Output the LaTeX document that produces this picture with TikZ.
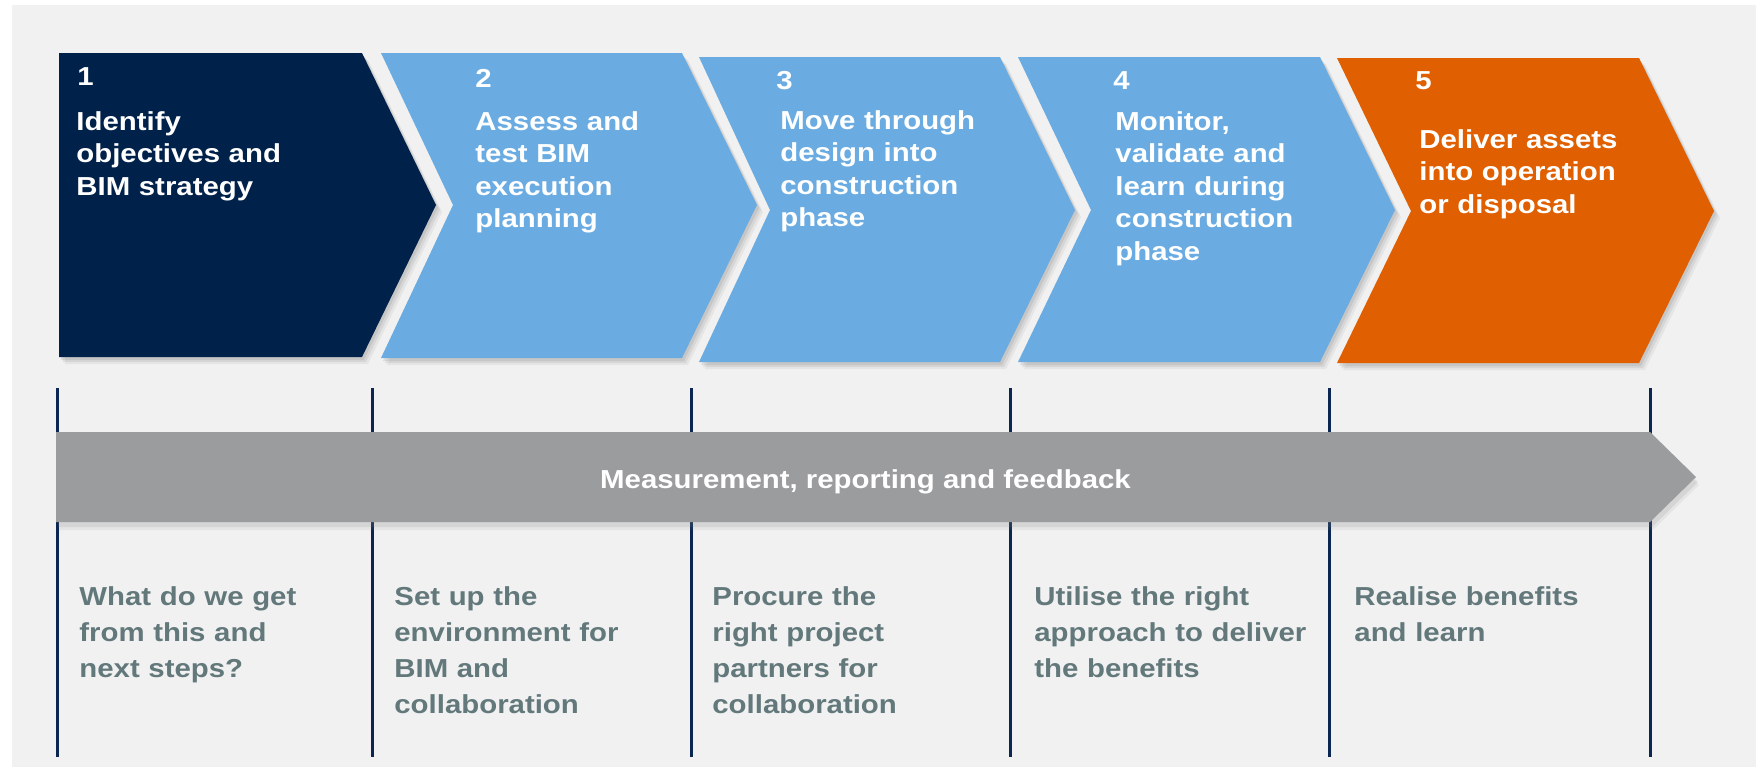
\documentclass[tikz,border=0pt]{standalone}
\usepackage{fontspec}
\setmainfont{Liberation Sans}[FakeStretch=1.13]
\usetikzlibrary{shadows}
\definecolor{navy}{HTML}{00214A}
\definecolor{lightblue}{HTML}{6AACE2}
\definecolor{orangec}{HTML}{E05F00}
\definecolor{barc}{HTML}{9B9C9E}
\definecolor{bgc}{HTML}{F1F1F1}
\definecolor{linec}{HTML}{0B2650}
\definecolor{textgray}{RGB}{98,120,122}
\tikzset{
  chev/.style={draw=none,
    drop shadow={shadow xshift=3pt, shadow yshift=-3.5pt, opacity=0.10},
    drop shadow={shadow xshift=2pt, shadow yshift=-2.5pt, opacity=0.14},
    drop shadow={shadow xshift=1pt, shadow yshift=-1.5pt, opacity=0.18}},
  numtxt/.style={anchor=base west, inner sep=0pt, text=white, font=\fontsize{13}{16.25}\selectfont\bfseries},
  steptxt/.style={anchor=base west, inner sep=0pt, text=white, text width=130pt, align=left, font=\fontsize{13}{16.25}\selectfont\bfseries},
  bottxt/.style={anchor=base west, inner sep=0pt, text=textgray, text width=150pt, align=left, font=\fontsize{13}{18}\selectfont\bfseries},
  divider/.style={draw=linec, line width=1.75pt}
}
\begin{document}
\begin{tikzpicture}[x=0.5pt, y=-0.5pt]
\useasboundingbox (0,0) rectangle (1756,767);
\fill[white] (0,0) rectangle (1756,767);
\fill[bgc] (12,5) rectangle (1756,767);

% chevrons
\fill[navy, chev] (59,53) -- (362,53) -- (436,205) -- (362,357) -- (59,357) -- cycle;
\fill[lightblue, chev] (381,53) -- (682,53) -- (757,205) -- (682,358) -- (381,358) -- (453,205) -- cycle;
\fill[lightblue, chev] (699,57) -- (1000,57) -- (1075,210) -- (1000,362) -- (699,362) -- (770,210) -- cycle;
\fill[lightblue, chev] (1018,57) -- (1320,57) -- (1395,210) -- (1320,362) -- (1018,362) -- (1091,210) -- cycle;
\fill[orangec, chev] (1337,58) -- (1639,58) -- (1714,211) -- (1639,363) -- (1337,363) -- (1411,211) -- cycle;

% step texts
\node[numtxt] (n1) at (77,85) {1};
\node[steptxt] (t1) at (76,130) {Identify\\objectives and\\BIM strategy};
\node[numtxt] (n2) at (475,87) {2};
\node[steptxt] (t2) at (475,130) {Assess and\\test BIM\\execution\\planning};
\node[numtxt] (n3) at (776,89) {3};
\node[steptxt] (t3) at (780,129) {Move through\\design into\\construction\\phase};
\node[numtxt] (n4) at (1113,89) {4};
\node[steptxt] (t4) at (1115,130) {Monitor,\\validate and\\learn during\\construction\\phase};
\node[numtxt] (n5) at (1415,89) {5};
\node[steptxt] (t5) at (1419,148) {Deliver assets\\into operation\\or disposal};

% dividers
\coordinate (d1a) at (57.5,388); \coordinate (d1b) at (57.5,757);
\coordinate (d2a) at (372.6,388); \coordinate (d2b) at (372.6,757);
\coordinate (d3a) at (691.7,388); \coordinate (d3b) at (691.7,757);
\coordinate (d4a) at (1010.7,388); \coordinate (d4b) at (1010.7,757);
\coordinate (d5a) at (1329.7,388); \coordinate (d5b) at (1329.7,757);
\coordinate (d6a) at (1650.4,388); \coordinate (d6b) at (1650.4,757);
\foreach \i in {1,...,6} { \draw[divider] (d\i a) -- (d\i b); }

% bar
\fill[barc,
  drop shadow={shadow xshift=1.5pt, shadow yshift=-4pt, opacity=0.10},
  drop shadow={shadow xshift=1pt, shadow yshift=-2.5pt, opacity=0.15}]
  (56,432) -- (1650,432) -- (1696,477) -- (1650,522) -- (56,522) -- cycle;
\node[anchor=base, inner sep=0pt, text=white, font=\fontsize{13}{16}\selectfont\bfseries] (bar) at (865.5,488) {Measurement, reporting and feedback};

% bottom texts
\node[bottxt] (b1) at (79,605) {What do we get\\from this and\\next steps?};
\node[bottxt] (b2) at (394,605) {Set up the\\environment for\\BIM and\\collaboration};
\node[bottxt] (b3) at (712,605) {Procure the\\right project\\partners for\\collaboration};
\node[bottxt] (b4) at (1034,605) {Utilise the right\\approach to deliver\\the benefits};
\node[bottxt] (b5) at (1354,605) {Realise benefits\\and learn};
\end{tikzpicture}
\end{document}
